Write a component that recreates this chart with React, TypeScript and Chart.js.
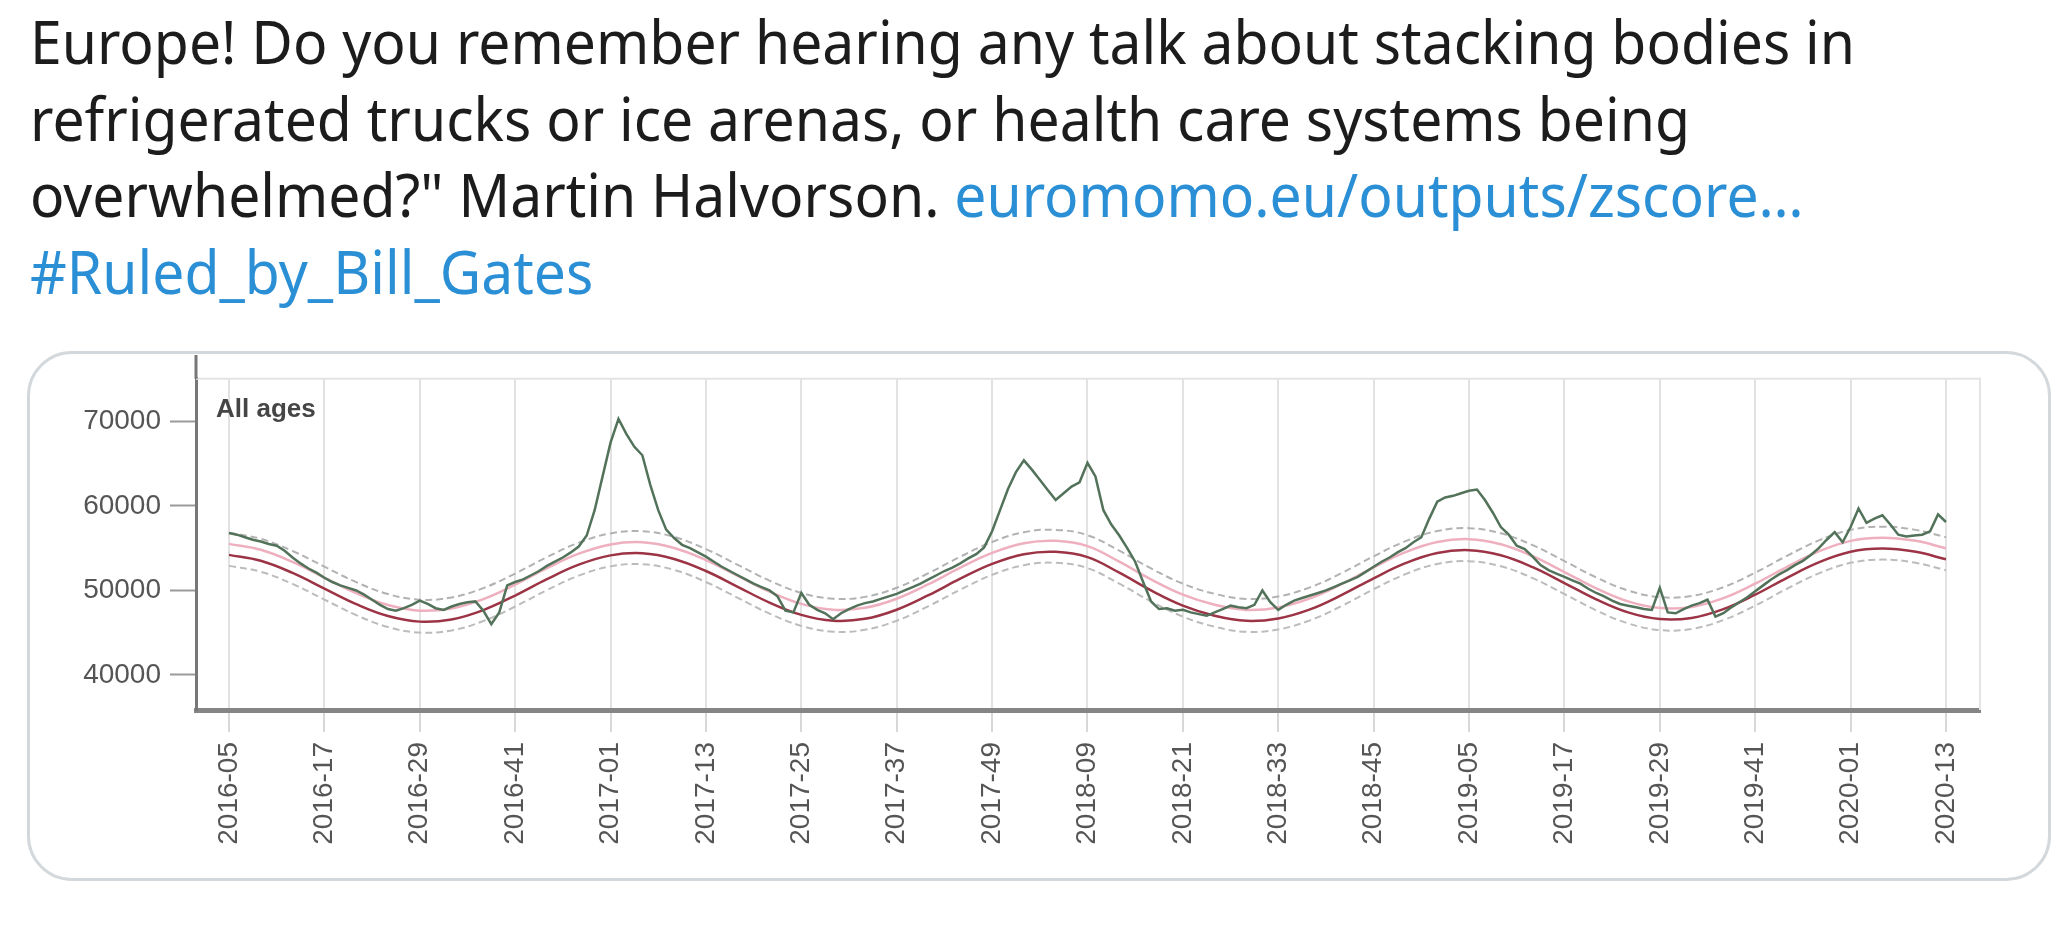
import React, { useEffect, useLayoutEffect, useRef } from "react";
import { Chart, registerables } from "chart.js";

Chart.register(...registerables);

// ---- data ----
const TICK_WEEKS = [0, 12, 24, 36, 48, 60, 72, 84, 96, 108, 120, 132, 144, 156, 168, 180, 192, 204, 216];
const TICK_LABELS = [
  "2016-05", "2016-17", "2016-29", "2016-41", "2017-01", "2017-13", "2017-25", "2017-37", "2017-49",
  "2018-09", "2018-21", "2018-33", "2018-45", "2019-05", "2019-17", "2019-29", "2019-41", "2020-01", "2020-13",
];
const Y_TICKS = [40000, 50000, 60000, 70000];

// weekly pooled number of deaths, from 2016-05 (index 0) to 2020-13 (index 216)
const OBSERVED = [
  56800, 56600, 56300, 56000, 55800, 55500, 55300, 54700, 53900, 53200, 52600, 52100,
  51500, 51000, 50600, 50300, 50000, 49500, 48900, 48300, 47800, 47600, 47900, 48300,
  48800, 48400, 47900, 47700, 48100, 48400, 48600, 48700, 47600, 46000, 47400, 50600,
  51000, 51300, 51800, 52300, 52900, 53400, 53900, 54500, 55200, 56500, 59500, 63500,
  67500, 70300, 68500, 67000, 66000, 62500, 59500, 57200, 56200, 55400, 55000, 54500,
  54000, 53400, 52800, 52300, 51800, 51300, 50800, 50400, 50000, 49300, 47600, 47400,
  49700, 48300, 47700, 47300, 46600, 47300, 47800, 48200, 48500, 48700, 49000, 49300,
  49600, 50000, 50400, 50800, 51300, 51800, 52300, 52700, 53200, 53800, 54300, 55100,
  57000, 59500, 62000, 64000, 65400, 64300, 63100, 61900, 60700, 61500, 62300, 62800,
  65100, 63500, 59500, 57800, 56500, 55000, 53400, 51000, 48700, 47800, 47900, 47600,
  47700, 47400, 47200, 47000, 47400, 47800, 48200, 48000, 47900, 48300, 50000, 48600,
  47700, 48300, 48800, 49100, 49400, 49700, 50000, 50400, 50800, 51200, 51600, 52200,
  52800, 53400, 53900, 54500, 55000, 55700, 56300, 58500, 60500, 61000, 61200, 61500,
  61800, 61950, 60700, 59200, 57500, 56600, 55300, 54900, 54000, 53000, 52400, 52000,
  51600, 51200, 50800, 50200, 49700, 49300, 48800, 48400, 48200, 48000, 47800, 47700,
  50300, 47400, 47300, 47800, 48200, 48500, 48900, 46900, 47300, 48000, 48600, 49200,
  49900, 50600, 51300, 51900, 52400, 53000, 53500, 54200, 55000, 56000, 56900, 55700,
  57500, 59700, 58000, 58500, 58900, 57800, 56600, 56400, 56500, 56600, 57000, 59000,
  58100,
];

// baseline and bands, read every 4th week
const BAND_WEEKS = [
  0, 4, 8, 12, 16, 20, 24, 28, 32, 36, 40, 44, 48, 52, 56, 60, 64, 68, 72, 76, 80, 84, 88, 92, 96, 100,
  104, 108, 112, 116, 120, 124, 128, 132, 136, 140, 144, 148, 152, 156, 160, 164, 168, 172, 176, 180,
  184, 188, 192, 196, 200, 204, 208, 212, 216,
];
const BASELINE = [
  54210, 53510, 52070, 50220, 48380, 46970, 46310, 46570, 47680, 49400, 51340, 53050, 54150, 54400,
  53730, 52300, 50430, 48560, 47110, 46420, 46640, 47720, 49440, 51390, 53140, 54290, 54570, 53940,
  52100, 50000, 48200, 47000, 46400, 46690, 47760, 49470, 51440, 53230, 54430, 54770, 54160, 52760,
  50880, 48940, 47400, 46610, 46750, 47790, 49500, 51500, 53320, 54570, 54950, 54600, 53700,
];
const UPPER_4Z = [
  56810, 56110, 54670, 52820, 50980, 49570, 48910, 49170, 50280, 52000, 53940, 55650, 56750, 57000,
  56330, 54900, 53030, 51160, 49710, 49020, 49240, 50320, 52040, 53990, 55740, 56890, 57170, 56540,
  54700, 52600, 50800, 49600, 49000, 49290, 50360, 52070, 54040, 55830, 57030, 57370, 56760, 55360,
  53480, 51540, 50000, 49210, 49350, 50390, 52100, 54100, 55920, 57170, 57550, 57200, 56300,
];
const UPPER_2Z = [
  55510, 54810, 53370, 51520, 49680, 48270, 47610, 47870, 48980, 50700, 52640, 54350, 55450, 55700,
  55030, 53600, 51730, 49860, 48410, 47720, 47940, 49020, 50740, 52690, 54440, 55590, 55870, 55240,
  53400, 51300, 49500, 48300, 47700, 47990, 49060, 50770, 52740, 54530, 55730, 56070, 55460, 54060,
  52180, 50240, 48700, 47910, 48050, 49090, 50800, 52800, 54620, 55870, 56250, 55900, 55000,
];
const LOWER_2Z = [
  52910, 52210, 50770, 48920, 47080, 45670, 45010, 45270, 46380, 48100, 50040, 51750, 52850, 53100,
  52430, 51000, 49130, 47260, 45810, 45120, 45340, 46420, 48140, 50090, 51840, 52990, 53270, 52640,
  50800, 48700, 46900, 45700, 45100, 45390, 46460, 48170, 50140, 51930, 53130, 53470, 52860, 51460,
  49580, 47640, 46100, 45310, 45450, 46490, 48200, 50200, 52020, 53270, 53650, 53300, 52400,
];

const PANEL_LABEL = "All ages";

const TWEET_LINES: { text: string; link?: string }[] = [
  { text: "Europe! Do you remember hearing any talk about stacking bodies in" },
  { text: "refrigerated trucks or ice arenas, or health care systems being" },
  { text: "overwhelmed?\" Martin Halvorson. ", link: "euromomo.eu/outputs/zscore…" },
  { text: "", link: "#Ruled_by_Bill_Gates" },
];

const TEXT_FONT = "'Noto Sans', 'Open Sans', sans-serif";
const AXIS_FONT = "'Liberation Sans', Arial, sans-serif";

export default function App() {
  const canvasRef = useRef<HTMLCanvasElement | null>(null);
  const line1Ref = useRef<HTMLSpanElement | null>(null);
  const textBoxRef = useRef<HTMLDivElement | null>(null);

  useLayoutEffect(() => {
    document.body.style.margin = "0";
    document.body.style.background = "#ffffff";
    const l1 = line1Ref.current;
    const box = textBoxRef.current;
    if (l1 && box) {
      const w = l1.getBoundingClientRect().width;
      const s = 1825 / w;
      box.style.transform = `scaleX(${s})`;
    }
  }, []);

  useEffect(() => {
    const canvas = canvasRef.current;
    if (!canvas) return;

    const panelLabel = {
      id: "panelLabel",
      beforeDatasetsDraw(chart: any) {
        const { ctx, chartArea } = chart;
        ctx.save();
        ctx.strokeStyle = "#e4e4e4";
        ctx.lineWidth = 2;
        ctx.beginPath();
        ctx.moveTo(chartArea.left, chartArea.top);
        ctx.lineTo(chartArea.right, chartArea.top);
        ctx.lineTo(chartArea.right, chartArea.bottom);
        ctx.stroke();
        // y axis line continues up to the card edge
        ctx.strokeStyle = "#777777";
        ctx.lineWidth = 3;
        ctx.beginPath();
        ctx.moveTo(chartArea.left, 2);
        ctx.lineTo(chartArea.left, chartArea.top);
        ctx.stroke();
        ctx.restore();
      },
      afterDatasetsDraw(chart: any) {
        const { ctx, chartArea } = chart;
        ctx.save();
        ctx.font = `bold 26px ${AXIS_FONT}`;
        ctx.fillStyle = "#454545";
        ctx.textBaseline = "middle";
        ctx.textAlign = "left";
        ctx.fillText(PANEL_LABEL, chartArea.left + 20, chartArea.top + 31);
        ctx.restore();
      },
    };

    const toPoints = (weeks: number[], vals: number[]) => vals.map((v, i) => ({ x: weeks[i], y: v }));
    const obsPoints = OBSERVED.map((v, i) => ({ x: i, y: v }));

    const chart = new Chart(canvas, {
      type: "line",
      data: {
        datasets: [
          {
            label: "Number of deaths",
            data: obsPoints,
            borderColor: "#52725a",
            borderWidth: 2.5,
            pointRadius: 0,
            tension: 0,
          },
          {
            label: "Baseline",
            data: toPoints(BAND_WEEKS, BASELINE),
            borderColor: "#9c3446",
            borderWidth: 2.5,
            pointRadius: 0,
            tension: 0.4,
          },
          {
            label: "2 z-scores",
            data: toPoints(BAND_WEEKS, UPPER_2Z),
            borderColor: "#eeb0bf",
            borderWidth: 2.5,
            pointRadius: 0,
            tension: 0.4,
          },
          {
            label: "4 z-scores",
            data: toPoints(BAND_WEEKS, UPPER_4Z),
            borderColor: "#b2b2b2",
            borderWidth: 2,
            borderDash: [7, 4],
            pointRadius: 0,
            tension: 0.4,
          },
          {
            label: "-2 z-scores",
            data: toPoints(BAND_WEEKS, LOWER_2Z),
            borderColor: "#bcbcbc",
            borderWidth: 2,
            borderDash: [7, 4],
            pointRadius: 0,
            tension: 0.4,
          },
        ],
      },
      options: {
        animation: false,
        responsive: false,
        devicePixelRatio: 1,
        layout: { padding: { top: 17, right: 65, left: 0, bottom: 0 } },
        plugins: { legend: { display: false }, tooltip: { enabled: false }, title: { display: false } },
        scales: {
          x: {
            type: "linear",
            min: -4.15,
            max: 220.28,
            afterFit: (s: any) => {
              s.height = 170;
            },
            afterBuildTicks: (s: any) => {
              s.ticks = TICK_WEEKS.map((v) => ({ value: v }));
            },
            grid: {
              display: true,
              color: "#e2e2e2",
              lineWidth: 2,
              drawTicks: true,
              tickLength: 22,
              tickColor: "#d8d8d8",
              tickWidth: 2,
            },
            border: { display: true, color: "#858585", width: 5 },
            ticks: {
              autoSkip: false,
              maxRotation: 90,
              minRotation: 90,
              padding: 10,
              color: "#555555",
              font: { family: AXIS_FONT, size: 28 },
              callback: (v: any) => {
                const k = TICK_WEEKS.indexOf(Number(v));
                return k >= 0 ? TICK_LABELS[k] : "";
              },
            },
          },
          y: {
            type: "linear",
            min: 35850,
            max: 75050,
            afterFit: (s: any) => {
              s.width = 167;
            },
            afterBuildTicks: (s: any) => {
              s.ticks = Y_TICKS.map((v) => ({ value: v }));
            },
            grid: {
              display: true,
              drawOnChartArea: false,
              drawTicks: true,
              tickLength: 26,
              tickColor: "#9a9a9a",
              tickWidth: 2,
            },
            border: { display: true, color: "#777777", width: 3 },
            ticks: {
              padding: 9,
              color: "#555555",
              font: { family: AXIS_FONT, size: 28 },
              callback: (v: any) => String(v),
            },
          },
        },
      },
      plugins: [panelLabel],
    });

    return () => chart.destroy();
  }, []);

  const lineTops = [11, 88, 164, 241];

  return (
    <div style={{ position: "relative", width: 2055, height: 928, overflow: "hidden", background: "#fff" }}>
      <div
        ref={textBoxRef}
        style={{ position: "absolute", left: 30, top: 0, transformOrigin: "0 0", whiteSpace: "nowrap" }}
      >
        {TWEET_LINES.map((ln, i) => (
          <div
            key={i}
            style={{
              position: "absolute",
              left: 0,
              top: lineTops[i],
              fontFamily: TEXT_FONT,
              fontSize: 60,
              lineHeight: "60px",
              color: "#1c1c1c",
            }}
          >
            <span ref={i === 0 ? line1Ref : undefined}>
              {ln.text}
              {ln.link ? <span style={{ color: "#2b8fd6" }}>{ln.link}</span> : null}
            </span>
          </div>
        ))}
      </div>
      <div
        style={{
          position: "absolute",
          left: 27,
          top: 351,
          width: 2024,
          height: 530,
          boxSizing: "border-box",
          border: "3px solid #d3d8dc",
          borderRadius: 45,
        }}
      />
      <canvas
        ref={canvasRef}
        width={2016}
        height={527}
        style={{ position: "absolute", left: 29, top: 353, width: 2016, height: 527 }}
      />
    </div>
  );
}
